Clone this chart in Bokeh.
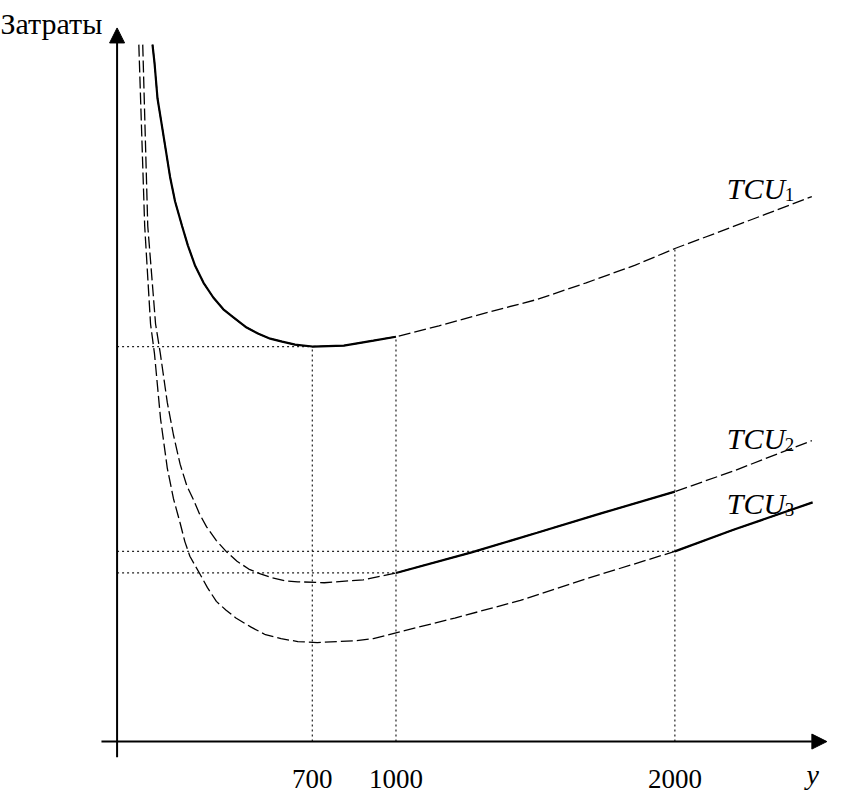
import numpy as np
from bokeh.plotting import figure
from bokeh.models import Range1d, Arrow, NormalHead
from bokeh.core.properties import value
from bokeh.embed import file_html
from bokeh.resources import INLINE

# ---- data (output y, cost units) ----
tcu1_x = [127, 134, 145, 162, 176, 190, 208, 233, 254, 279, 310, 345, 381, 416, 461,
          507, 549, 592, 638, 700, 813, 919, 1000, 1154, 1330, 1506, 1682, 1858,
          2000, 2150, 2326, 2491]
tcu1_y = [71.1, 69.3, 65.6, 62.6, 60.1, 57.6, 55.1, 52.6, 50.6, 48.6, 46.8, 45.3,
          44.1, 43.3, 42.3, 41.6, 41.1, 40.8, 40.5, 40.3, 40.4, 40.9, 41.3, 42.4,
          43.8, 45.1, 46.8, 48.6, 50.3, 51.9, 53.8, 55.6]

tcu2_x = [92, 110, 138, 155, 180, 202, 226, 250, 275, 296, 321, 356, 391, 430, 472,
          514, 556, 602, 648, 743, 883, 1000, 1271, 1506, 1738, 2000, 2210, 2491]
tcu2_y = [71.1, 52.6, 42.6, 39.6, 34.6, 31.3, 28.3, 26.1, 24.6, 23.2, 21.9, 20.5,
          19.4, 18.4, 17.6, 17.1, 16.7, 16.4, 16.3, 16.2, 16.5, 17.2, 19.3, 21.3,
          23.3, 25.5, 27.6, 30.7]

tcu3_x = [78, 99, 120, 134, 156, 180, 202, 226, 243, 261, 293, 324, 356, 391, 426,
          479, 532, 588, 648, 718, 859, 919, 1000, 1211, 1446, 1682, 2000, 2210, 2494]
tcu3_y = [71.1, 52.6, 42.6, 39.6, 32.9, 27.9, 24.8, 22.3, 20.4, 18.9, 17.3, 15.7,
          14.3, 13.4, 12.6, 11.7, 10.9, 10.5, 10.2, 10.1, 10.3, 10.5, 11.1, 12.6,
          14.4, 16.6, 19.4, 21.6, 24.4]

tick_values = [700, 1000, 2000]
tick_labels = ["700", "1000", "2000"]
curve_names = ["TCU", "TCU", "TCU"]
curve_subs = ["1", "2", "3"]

# solid (relevant) interval of each curve
solid_ranges = [(0, 1000), (1000, 2000), (2000, 3000)]

curves = [(tcu1_x, tcu1_y), (tcu2_x, tcu2_y), (tcu3_x, tcu3_y)]


def val_at(xs, ys, x):
    return ys[xs.index(x)]


p = figure(width=830, height=794, x_range=Range1d(-418, 2558), y_range=Range1d(-5.4, 75.6),
           x_axis_location=None, y_axis_location=None, toolbar_location=None,
           output_backend="svg", min_border=0)
p.grid.grid_line_color = None
p.outline_line_color = None
p.background_fill_color = "white"
p.border_fill_color = "white"

# guide lines (dotted)
v_top = [val_at(tcu1_x, tcu1_y, t) for t in tick_values]
p.segment(x0=tick_values, y0=[0] * 3, x1=tick_values, y1=v_top,
          line_color="#222222", line_width=1.2, line_dash="2 3")
h_levels = [val_at(tcu1_x, tcu1_y, 700), val_at(tcu2_x, tcu2_y, 1000), val_at(tcu3_x, tcu3_y, 2000)]
h_ends = [700, 1000, 2000]
p.segment(x0=[0] * 3, y0=h_levels, x1=h_ends, y1=h_levels,
          line_color="#222222", line_width=1.2, line_dash="2 3")

# curves: dashed whole, solid part on top
for (xs, ys), (lo, hi) in zip(curves, solid_ranges):
    xa = np.array(xs, dtype=float)
    ya = np.array(ys, dtype=float)
    p.line(xa, ya, line_color="black", line_width=1.3, line_dash="12 4")
    m = (xa >= lo) & (xa <= hi)
    p.line(xa[m], ya[m], line_color="black", line_width=2.2)

# axes with arrow heads
p.add_layout(Arrow(end=NormalHead(size=15, fill_color="black", line_color="black"),
                   x_start=0, y_start=-1.6, x_end=0, y_end=72.8,
                   line_width=2, line_color="black"))
p.add_layout(Arrow(end=NormalHead(size=15, fill_color="black", line_color="black"),
                   x_start=-56, y_start=0, x_end=2545, y_end=0,
                   line_width=2, line_color="black"))

serif = value("Liberation Serif")

# tick labels
p.text(x=tick_values, y=[-3.8] * 3, text=tick_labels, text_align="center",
       text_baseline="alphabetic", text_font=serif, text_font_size="27px", text_color="black")

# curve labels
lab_x = [2186, 2186, 2186]
lab_y = [56.4, 30.9, 24.3]
p.text(x=lab_x, y=lab_y, text=curve_names, text_align="left", text_baseline="alphabetic",
       text_font=serif, text_font_style="italic", text_font_size="30px", text_color="black")
p.text(x=lab_x, y=lab_y, text=curve_subs, text_align="left", text_baseline="alphabetic",
       x_offset=58, y_offset=6, text_font=serif, text_font_size="19px", text_color="black")

# axis titles
p.text(x=[-418], y=[73.3], text=["Затраты"], text_align="left", text_baseline="alphabetic",
       text_font=serif, text_font_size="30px", text_color="black")
p.text(x=[2494], y=[-3.4], text=["y"], text_align="center", text_baseline="alphabetic",
       text_font=serif, text_font_style="italic", text_font_size="28px", text_color="black")

open("out.html", "w").write(file_html(p, INLINE))
